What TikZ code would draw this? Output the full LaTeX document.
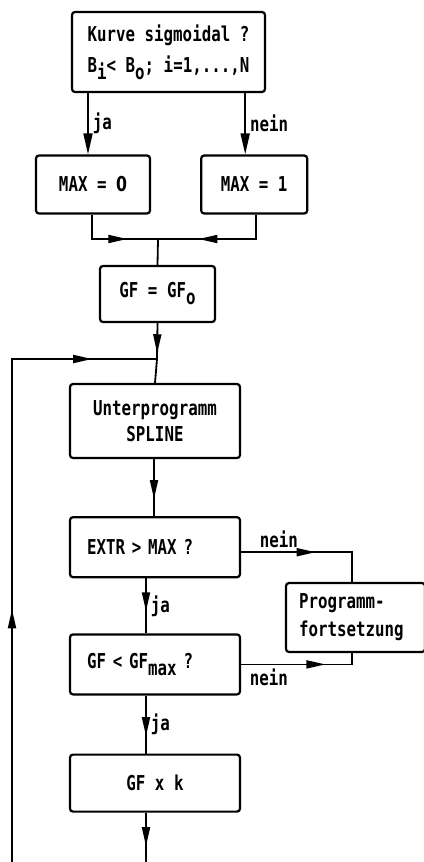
\documentclass[tikz,border=0pt]{standalone}
\usepackage{fontspec}
\newfontfamily\diafont[FakeStretch=0.77]{DejaVu Sans Mono}
\newfontfamily\digitfont[FakeStretch=0.77]{DejaVu Sans}
\usetikzlibrary{arrows.meta,positioning,decorations.markings}
\newcommand{\lowered}[1]{\raisebox{-7pt}{#1}}
\newcommand{\zerodigit}{{\digitfont\bfseries 0}}

\begin{document}
\begin{tikzpicture}[
  x=1pt, y=-1pt,
  font=\diafont\bfseries\fontsize{20.5}{27}\selectfont,
  box/.style={draw, line width=2.2pt, rounded corners=3pt, align=center, inner sep=0pt},
  qbox/.style={box, align=left, text width=136pt, inner xsep=17pt, minimum height=60pt},
  line/.style={line width=1.8pt},
  arrow/.style={line, -{Triangle[length=21pt, width=9pt]}},
  midarrow/.style={postaction={decorate, decoration={markings,
      mark=at position #1 with {\arrow{Triangle[length=19pt, width=8pt]}}}}},
  lbl/.style={font=\diafont\bfseries\fontsize{20.5}{22}\selectfont, inner sep=4pt}
]
\useasboundingbox (0,0) rectangle (423,862);

% test on the curve
\node[box, minimum width=193pt, minimum height=80pt, align=left,
      font=\diafont\bfseries\fontsize{20.5}{31}\selectfont] (cond) at (168.5,52)
  {Kurve sigmoidal ?\\B\lowered{i}< B\lowered{o}; i=1,...,N};

\node[box, minimum width=114pt, minimum height=58pt] (max0) at (93,184.5) {MAX = \zerodigit};
\node[box, minimum width=106pt, minimum height=58pt, right=49pt of max0] (max1) {MAX = 1};

\node[box, minimum width=115pt, minimum height=56pt] (gf0) at (157.5,294) {GF = GF\lowered{o}};

% iteration
\node[box, minimum width=170pt, minimum height=74pt, font=\diafont\bfseries\fontsize{20.5}{26}\selectfont]
  (spline) at (155,421) {Unterprogramm\\SPLINE};
\node[qbox, below=57pt of spline] (extr) {EXTR > MAX ?};
\node[qbox, below=55pt of extr] (gfmax) {GF < GF\lowered{max} ?};
\node[box, minimum width=170pt, minimum height=57pt, below=58pt of gfmax] (gfk) {GF x k};

\node[box, align=left, text width=113pt, inner xsep=13pt, minimum height=69pt,
      font=\diafont\bfseries\fontsize{20.5}{28}\selectfont] (fort) at (355.5,617.5)
  {Programm-\\fortsetzung};

\coordinate (join) at (158,239);
\coordinate (loopin) at (157,359);
\coordinate (loopfoot) at (12,862);
\coordinate (exit) at (146,862);

\draw[arrow] ([xshift=-5pt]max0.north |- cond.south) -- node[lbl, right] {ja} ([xshift=-5pt]max0.north);
\draw[arrow] ([xshift=-9pt]max1.north |- cond.south) -- node[lbl, right] {nein} ([xshift=-9pt]max1.north);
\draw[line, midarrow=0.66] ([xshift=-1pt]max0.south) |- (join);
\draw[line, midarrow=0.67] ([xshift=2pt]max1.south) |- (join);
\draw[line] (join) -- (gf0.north);
\draw[line, midarrow=0.84] (gf0.south) -- (loopin);
\draw[line, midarrow=0.39, midarrow=0.9] (loopfoot) |- (loopin);
\draw[line] (loopin) -- (spline.north);
\draw[line, midarrow=0.7] ([xshift=-1pt]spline.south) -- ([xshift=-1pt]extr.north);
\draw[line, midarrow=0.6] ([xshift=-9pt]extr.south) -- node[lbl, right] {ja} ([xshift=-9pt]gfmax.north);
\draw[line, midarrow=0.7] ([xshift=-9pt]gfmax.south) -- node[lbl, right] {ja} ([xshift=-9pt]gfk.north);
\draw[line, midarrow=0.68] ([xshift=-9pt]gfk.south) -- (exit);
\draw[line, midarrow=0.53] ([yshift=-5pt]extr.east) -| node[lbl, above, pos=0.17] {nein} ([xshift=-3.5pt]fort.north);
\draw[line, midarrow=0.69] (gfmax.east) -| node[lbl, below, pos=0.125] {nein} ([xshift=-3.5pt]fort.south);

\end{tikzpicture}
\end{document}
